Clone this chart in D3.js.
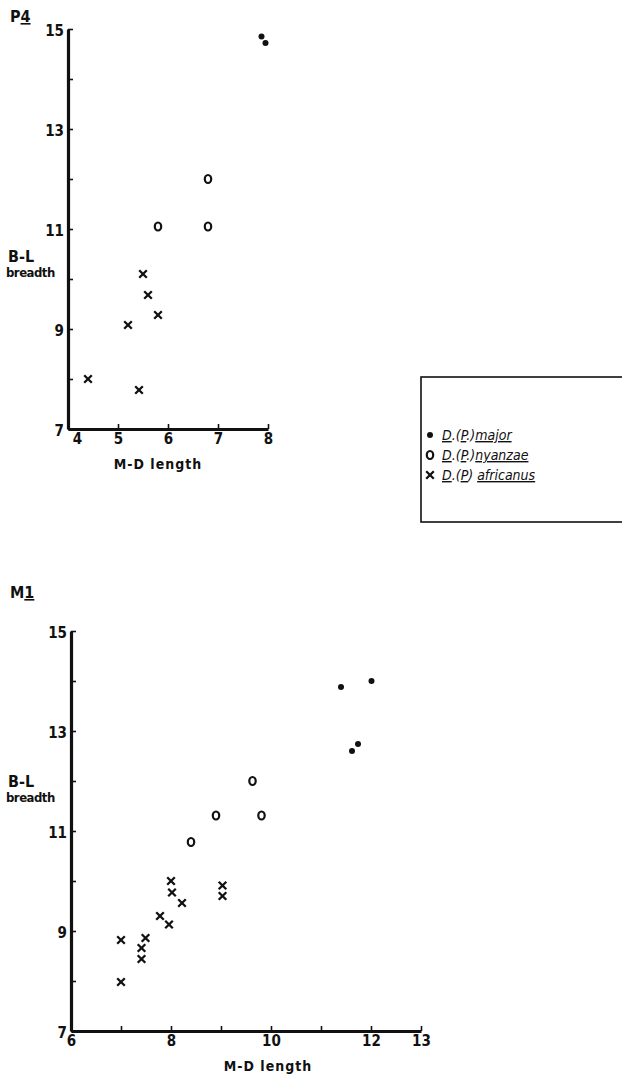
<!DOCTYPE html>
<html>
<head>
<meta charset="utf-8">
<script src="https://cdn.jsdelivr.net/npm/d3@7"></script>
<style>
  html, body { margin: 0; padding: 0; background: #fff; }
  svg { display: block; }
  text { font-family: "Liberation Sans Narrow", "DejaVu Sans Condensed", "Liberation Sans", Arial, sans-serif; fill: #111; }
</style>
</head>
<body>
<svg id="chart" width="622" height="1085"></svg>
<script>
// ---- Data: P4 (lower fourth premolar) ----
const p4Major      = [[7.87, 14.85], [7.95, 14.72]];
const p4Nyanzae    = [[6.8, 12.0], [5.8, 11.05], [6.8, 11.05]];
const p4Africanus  = [[5.5, 10.1], [5.6, 9.68], [5.8, 9.28], [5.2, 9.08], [4.4, 8.0], [5.42, 7.78]];

// ---- Data: M1 (lower first molar) ----
const m1Major      = [[11.4, 13.88], [12.01, 14.0], [11.62, 12.6], [11.74, 12.74]];
const m1Nyanzae    = [[9.63, 12.0], [8.9, 11.31], [9.81, 11.31], [8.4, 10.78]];
const m1Africanus  = [[7.0, 8.82], [7.0, 7.98], [7.41, 8.66], [7.41, 8.44], [7.49, 8.86],
                      [7.78, 9.3], [7.96, 9.13], [8.0, 10.0], [8.02, 9.77], [8.22, 9.56],
                      [9.03, 9.91], [9.03, 9.7]];

// ---- Axis ticks / labels ----
const yTicks        = [7, 8, 9, 10, 11, 12, 13, 14, 15];
const yTickLabels   = [7, 9, 11, 13, 15];
const p4XTicks      = [5, 6, 7, 8];
const p4XLabels     = [4, 5, 6, 7, 8];
const m1XTicks      = [7, 8, 9, 10, 11, 12, 13];
const m1XLabels     = [6, 8, 10, 12, 13];

const legendLabels = [
  { sym: "major",     parts: [["D", true], [".(", false], ["P", true], [".)", false], ["major", true]] },
  { sym: "nyanzae",   parts: [["D", true], [".(", false], ["P", true], [".)", false], ["nyanzae", true]] },
  { sym: "africanus", parts: [["D", true], [".(", false], ["P", true], [") ", false], ["africanus", true]] }
];

const svg = d3.select("#chart");

function drawSymbol(g, type, x, y) {
  if (type === "major") {
    g.append("circle").attr("cx", x).attr("cy", y).attr("r", 3).attr("fill", "#111");
  } else if (type === "nyanzae") {
    g.append("ellipse").attr("cx", x).attr("cy", y).attr("rx", 3.2).attr("ry", 4)
      .attr("fill", "none").attr("stroke", "#111").attr("stroke-width", 2.2);
  } else {
    const s = 3.8;
    g.append("path")
      .attr("d", `M${x - s},${y - s}L${x + s},${y + s}M${x + s},${y - s}L${x - s},${y + s}`)
      .attr("stroke", "#111").attr("stroke-width", 2.3).attr("fill", "none");
  }
}

function panel(opts) {
  const g = svg.append("g");
  const x = d3.scaleLinear().domain(opts.xDomain).range(opts.xRange);
  const y = d3.scaleLinear().domain([7, 15]).range(opts.yRange);

  // y axis
  const ya = g.append("g").attr("transform", `translate(${opts.xRange[0]},0)`)
    .call(d3.axisLeft(y).tickValues(yTicks).tickSizeInner(-5).tickSizeOuter(0).tickPadding(4)
      .tickFormat(d => yTickLabels.includes(d) ? d : ""));
  ya.select(".domain").attr("stroke", "#111").attr("stroke-width", 3.2);
  ya.selectAll(".tick line").attr("stroke", "#111").attr("stroke-width", 1.6);
  ya.selectAll(".tick text").attr("font-size", 15).attr("font-weight", "bold").attr("fill", "#111")
    .attr("font-family", null).attr("dy", "0.42em");

  // x axis
  const xa = g.append("g").attr("transform", `translate(0,${opts.yRange[0]})`)
    .call(d3.axisBottom(x).tickValues(opts.xTickVals.concat(opts.xLabels.filter(v => !opts.xTickVals.includes(v))))
      .tickSizeInner(-5).tickSizeOuter(0).tickPadding(4)
      .tickFormat(d => opts.xLabels.includes(d) ? d : ""));
  xa.select(".domain").attr("stroke", "#111").attr("stroke-width", 2.8);
  xa.selectAll(".tick line").attr("stroke", "#111").attr("stroke-width", 1.6)
    .attr("display", d => opts.xTickVals.includes(d) ? null : "none");
  xa.selectAll(".tick text").attr("font-size", 15).attr("font-weight", "bold").attr("fill", "#111")
    .attr("font-family", null)
    .attr("dx", d => d === opts.xDomain[0] ? opts.firstDx : 0);

  // titles
  g.append("text").attr("x", 8).attr("y", opts.blY).attr("font-size", 16).attr("font-weight", "bold").text("B-L");
  g.append("text").attr("x", 6).attr("y", opts.blY + 15).attr("font-size", 13).attr("font-weight", "bold")
    .attr("letter-spacing", -0.5).text("breadth");
  g.append("text").attr("x", opts.mdX).attr("y", opts.yRange[0] + 40).attr("text-anchor", "middle")
    .attr("font-size", 14).attr("font-weight", "bold").attr("letter-spacing", 1).text("M-D  length");

  const t = g.append("text").attr("x", opts.tagX).attr("y", opts.tagY).attr("font-size", 16).attr("font-weight", "bold");
  t.append("tspan").text(opts.tag[0]);
  t.append("tspan").attr("text-decoration", "underline").text(opts.tag[1]);

  const pts = g.append("g");
  opts.major.forEach(d => drawSymbol(pts, "major", x(d[0]), y(d[1])));
  opts.nyanzae.forEach(d => drawSymbol(pts, "nyanzae", x(d[0]), y(d[1])));
  opts.africanus.forEach(d => drawSymbol(pts, "africanus", x(d[0]), y(d[1])));
}

panel({
  xDomain: [4, 8], xRange: [68, 268], yRange: [429, 29],
  xTickVals: p4XTicks, xLabels: p4XLabels, firstDx: 9,
  blY: 262, mdX: 158, tag: ["P", "4"], tagX: 10, tagY: 22,
  major: p4Major, nyanzae: p4Nyanzae, africanus: p4Africanus
});

panel({
  xDomain: [6, 13], xRange: [71, 421], yRange: [1031, 631],
  xTickVals: m1XTicks, xLabels: m1XLabels, firstDx: 0,
  blY: 787, mdX: 268, tag: ["M", "1"], tagX: 10, tagY: 598,
  major: m1Major, nyanzae: m1Nyanzae, africanus: m1Africanus
});

// legend
const lg = svg.append("g");
lg.append("rect").attr("x", 421).attr("y", 377).attr("width", 210).attr("height", 145)
  .attr("fill", "none").attr("stroke", "#111").attr("stroke-width", 1.6);
legendLabels.forEach((L, i) => {
  const cy = 435 + i * 20;
  drawSymbol(lg, L.sym, 430, cy);
  const tx = lg.append("text").attr("x", 442).attr("y", cy + 5).attr("font-size", 14)
    .attr("font-style", "italic");
  L.parts.forEach(p => tx.append("tspan").attr("text-decoration", p[1] ? "underline" : null).text(p[0]));
});
</script>
</body>
</html>
